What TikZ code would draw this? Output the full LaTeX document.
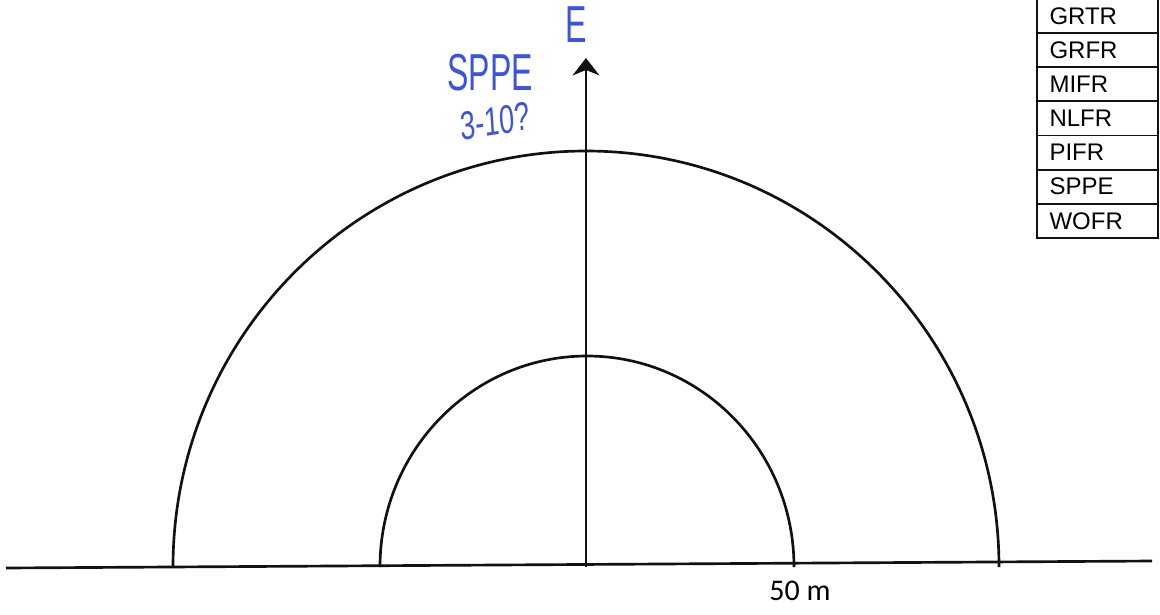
\documentclass[tikz,border=0pt]{standalone}
\usepackage{fontspec}
\setmainfont{Liberation Sans}
\newfontfamily\carlito{Carlito}
\usetikzlibrary{arrows.meta,positioning,calc}
\definecolor{inkblue}{HTML}{3A55DC}
\definecolor{penblack}{HTML}{111111}
\tikzset{
  pen/.style={draw=penblack, line width=2pt},
  axisarr/.style={-{Stealth[length=13pt, width=20pt, inset=4pt]}, line width=2.2pt, color=penblack},
  namecell/.style={draw=penblack, line width=1.4pt, minimum width=90.75pt, minimum height=25.6pt,
                   inner sep=0pt, text width=72pt, align=left, font=\fontsize{18}{18}\selectfont},
  scribble/.style={text=inkblue, inner sep=0pt, font=\fontsize{30}{30}\selectfont}}

\begin{document}
\begin{tikzpicture}[x=0.75pt, y=-0.75pt]
  \useasboundingbox (0,0) rectangle (1160,614);
  % ground line and centre
  \coordinate (origin) at (586,567);
  \coordinate (gleft) at (6,568);
  \coordinate (gright) at (1152,561);
  \draw[pen] (gleft) -- (gright);
  % the two half rings
  \draw[pen] ($(origin)+(-413,0)$) arc[start angle=180, end angle=360, x radius=413, y radius=416];
  \draw[pen] ($(origin)+(-206,0)$) arc[start angle=180, end angle=360, x radius=207, y radius=211];
  % north arrow
  \coordinate (tip) at (586,58);
  \draw[axisarr] (origin) -- (tip);
  \node[font=\carlito\fontsize{22.5}{22.5}\selectfont] (scale) at (800,591) {50 m};
  % species table
  \node[namecell] (r1) at (1097.5,16) {GRTR};
  \foreach \nm [count=\i from 1, evaluate=\i as \j using int(\i+1)] in {GRFR,MIFR,NLFR,PIFR,SPPE,WOFR}
    \node[namecell, below=-1.4pt of r\i] (r\j) {\nm};
  % handwritten notes
  \node[scribble, xscale=0.8, yscale=1.3] (note) at (490,73) {SPPE};
  \node[scribble, xscale=0.85, yscale=1.25, rotate=6, font=\fontsize{24}{24}\selectfont] (range) at (495,121) {3-10?};
  \node[scribble, xscale=0.8, yscale=1.3] (dir) at (576,25) {E};
\end{tikzpicture}
\end{document}
